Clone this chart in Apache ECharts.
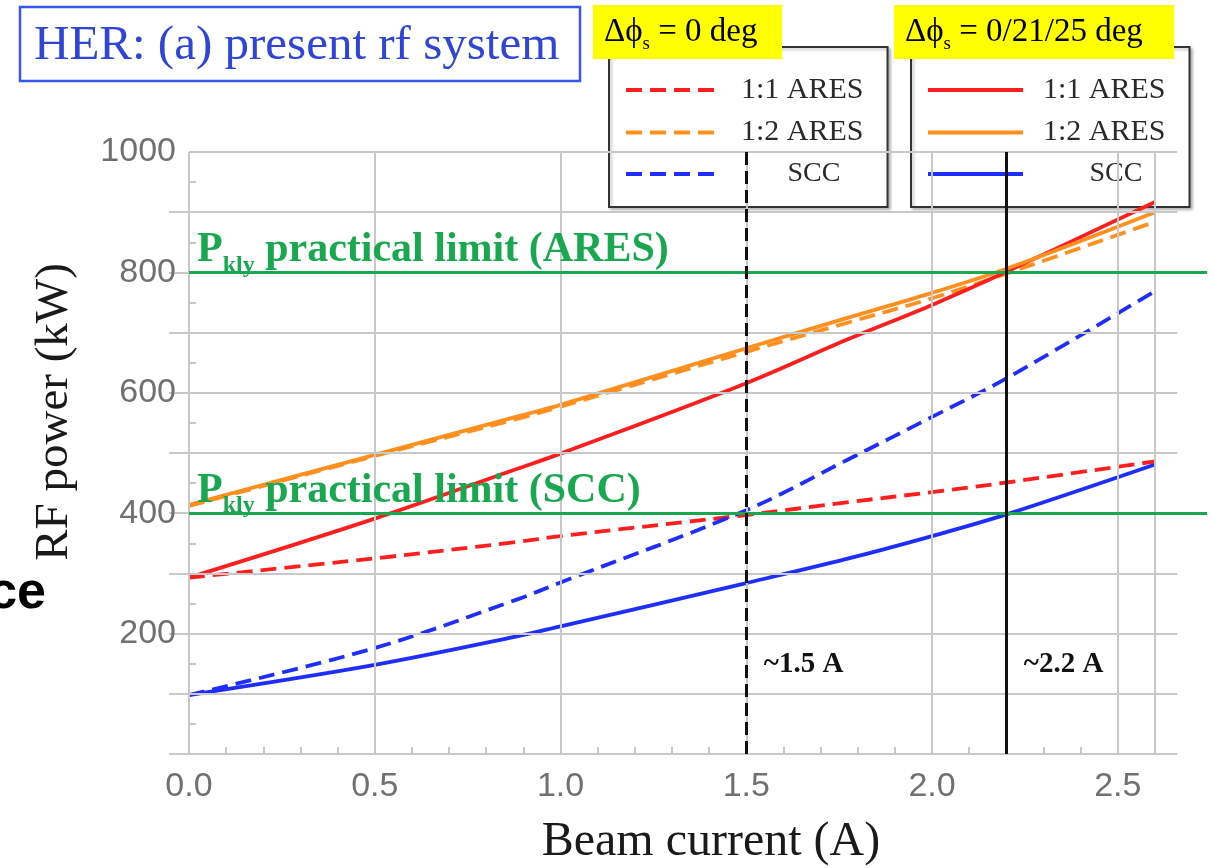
<!DOCTYPE html>
<html>
<head>
<meta charset="utf-8">
<script src="https://cdn.jsdelivr.net/npm/echarts@6/dist/echarts.min.js"></script>
<style>
html,body{margin:0;padding:0;background:#fff;}
#chart{width:1214px;height:868px;}
</style>
</head>
<body>
<div id="chart"></div>
<script>
// ---- data ----
const current = [0, 0.5, 0.88, 1.0, 1.5, 1.77, 2.0, 2.2, 2.6];
const ares11Dphi0 = [293, 325, 352, 362, 397, 418, 435, 451, 486];
const ares12Dphi0 = [412, 495, 556, 577, 668, 716, 757, 798, 884];
const sccDphi0    = [98, 176, 256, 285, 405, 488, 560, 624, 769];
const ares11      = [293, 391, 473, 499, 616, 688, 746, 801, 917];
const ares12      = [414, 497, 560, 580, 674, 724, 766, 806, 900];
const scc         = [98, 148, 195, 212, 284, 324, 362, 398, 481];

const limitValues = [800, 400];
const limitNames = ['ARES', 'SCC'];
const markerCurrents = [1.5, 2.2];
const markerLabels = ['~1.5 A', '~2.2 A'];

// ---- ticks / grid ----
const xLabelValues = [0, 0.5, 1.0, 1.5, 2.0, 2.5];
const xMinorTickValues = [0.1, 0.2, 0.3, 0.4, 0.5, 0.6, 0.7, 0.8, 0.9, 1.0, 1.1, 1.2, 1.3, 1.4, 1.5, 1.6, 1.7, 1.8, 1.9, 2.0, 2.1, 2.2, 2.3, 2.4, 2.5, 2.6];
const yLabelValues = [200, 400, 600, 800, 1000];
const yMajorTickValues = [0, 100, 200, 300, 400, 500, 600, 700, 800, 900];
const yMinorTickValues = [50, 150, 250, 350, 450, 550, 650, 750, 850, 950];
const xGridValues = [0, 0.5, 1.0, 1.5, 2.0, 2.5, 2.6];
const yGridValues = [0, 100, 200, 300, 400, 500, 600, 700, 800, 900, 1000];
const xFrameMax = 2.66;
const yFrameMax = 1000;

const RED = '#ff1e1e', ORANGE = '#ff8f1e', BLUE = '#1f2dff', GREEN = '#19a84f';
const GRIDC = '#c8c8c8';
const SERIF = '"Liberation Serif", "Times New Roman", serif';
const SANS = '"Liberation Sans", Arial, sans-serif';

function pairs(vals) { return current.map((x, i) => [x, vals[i]]); }

const curveDefs = [
  {name: '1:1 ARES|0', vals: ares11Dphi0, color: RED, dashed: true},
  {name: '1:2 ARES|0', vals: ares12Dphi0, color: ORANGE, dashed: true},
  {name: 'SCC|0', vals: sccDphi0, color: BLUE, dashed: true},
  {name: '1:1 ARES|1', vals: ares11, color: RED, dashed: false},
  {name: '1:2 ARES|1', vals: ares12, color: ORANGE, dashed: false},
  {name: 'SCC|1', vals: scc, color: BLUE, dashed: false}
];

const curveSeries = curveDefs.map(d => ({
  name: d.name,
  type: 'line',
  data: pairs(d.vals),
  smooth: 0.35,
  symbol: 'none',
  z: 4,
  lineStyle: {color: d.color, width: 3.8, type: d.dashed ? [16, 8] : 'solid'},
  itemStyle: {color: d.color}
}));

const gridLines = [];
xGridValues.forEach(x => gridLines.push([{coord: [x, 0]}, {coord: [x, yFrameMax]}]));
yGridValues.forEach(v => gridLines.push([{coord: [0, v]}, {coord: [xFrameMax, v]}]));

const greenRich = {
  p: {fontSize: 42, fontWeight: 'bold', fontFamily: SERIF, color: GREEN, lineHeight: 42},
  s: {fontSize: 24, fontWeight: 'bold', fontFamily: SERIF, color: GREEN, lineHeight: 24, padding: [30, 0, 0, 0]}
};

const legendRich = {
  a: {fontSize: 30, fontFamily: SERIF, color: '#2a2a2a', lineHeight: 30, padding: [0, 0, 0, 15]},
  c: {fontSize: 28, fontFamily: SERIF, color: '#2a2a2a', lineHeight: 30, width: 70, align: 'center', padding: [0, 0, 0, 53]}
};
function legendFmt(name) {
  const n = name.split('|')[0];
  return n === 'SCC' ? '{c|' + n + '}' : '{a|' + n + '}';
}
function legendCfg(suffix, left) {
  return {
    data: curveDefs.filter(d => d.name.endsWith(suffix)).map(d => d.name),
    left: left, top: 47, orient: 'vertical',
    padding: [28, 24, 19, 15],
    itemGap: 12.5, itemWidth: 95, itemHeight: 14,
    backgroundColor: '#fff', borderColor: '#333', borderWidth: 2,
    shadowColor: 'rgba(0,0,0,0.25)', shadowBlur: 3, shadowOffsetX: 2, shadowOffsetY: 2,
    selectedMode: false,
    itemStyle: {opacity: 0, color: 'rgba(0,0,0,0)', borderWidth: 0},
    lineStyle: {width: 4},
    formatter: legendFmt,
    textStyle: {rich: legendRich}
  };
}

const titleRich = {
  m: {fontSize: 33, fontFamily: SERIF, color: '#111', lineHeight: 33},
  s: {fontSize: 19, fontFamily: SERIF, color: '#111', lineHeight: 19, padding: [24, 0, 0, 0]}
};

const option = {
  animation: false,
  backgroundColor: '#fff',
  grid: {left: 189, top: 152, right: 7, bottom: 114, containLabel: false},
  xAxis: [{
    type: 'value', min: 0, max: 2.74,
    axisLine: {show: false},
    splitLine: {show: false},
    axisTick: {show: true, inside: true, length: 7, customValues: xMinorTickValues, lineStyle: {color: GRIDC, width: 2}},
    axisLabel: {customValues: xLabelValues, formatter: v => v.toFixed(1), fontSize: 34, fontFamily: SANS, color: '#707070', margin: 16}
  }],
  yAxis: [{
    type: 'value', min: 0, max: 1000, interval: 100, position: 'left',
    axisLine: {show: false},
    splitLine: {show: false},
    axisTick: {show: true, inside: false, length: 20, customValues: yMajorTickValues, lineStyle: {color: GRIDC, width: 2}},
    axisLabel: {customValues: yLabelValues, formatter: v => String(v), fontSize: 34, fontFamily: SANS, color: '#707070', margin: 13}
  }, {
    type: 'value', min: 0, max: 1000, interval: 50, position: 'left', offset: 0,
    axisLine: {show: false},
    splitLine: {show: false},
    axisLabel: {show: false},
    axisTick: {show: true, inside: true, length: 7, customValues: yMinorTickValues, lineStyle: {color: GRIDC, width: 2}}
  }],
  legend: [legendCfg('|0', 609), legendCfg('|1', 911)],
  series: [
    {
      name: 'grid', type: 'line', data: [], silent: true, z: 1,
      markLine: {
        silent: true, symbol: ['none', 'none'], animation: false,
        label: {show: false},
        lineStyle: {color: GRIDC, width: 2, type: 'solid'},
        data: gridLines
      }
    },
    {
      name: 'limits', type: 'line', data: [], silent: true, z: 3,
      markLine: {
        silent: true, symbol: ['none', 'none'], animation: false,
        lineStyle: {color: GREEN, width: 3, type: 'solid'},
        data: limitValues.map((v, i) => ({
          yAxis: v,
          label: {
            show: true, position: 'insideStartTop', distance: [8, 1],
            formatter: '{p|P}{s|kly}{p| practical limit (' + limitNames[i] + ')}',
            rich: greenRich
          }
        }))
      }
    },
    ...curveSeries,
    {
      name: 'markers', type: 'line', data: [], silent: true, z: 5,
      markLine: {
        silent: true, symbol: ['none', 'none'], animation: false,
        label: {show: false},
        data: markerCurrents.map((x, i) => ({
          xAxis: x,
          lineStyle: {color: '#111', width: 3, type: i === 0 ? [13, 6] : 'solid'}
        }))
      },
      markPoint: {
        silent: true, symbol: 'circle', symbolSize: 1, animation: false,
        itemStyle: {color: 'rgba(0,0,0,0)'},
        label: {show: true, position: 'right', distance: 17, formatter: '{b}',
                fontSize: 29, fontWeight: 'bold', fontFamily: SERIF, color: '#111'},
        data: markerCurrents.map((x, i) => ({name: markerLabels[i], coord: [x, 148]}))
      }
    }
  ],
  graphic: [
    {type: 'rect', z: 10, shape: {x: 20, y: 7, width: 560, height: 74},
     style: {fill: '#fff', stroke: '#3b55f0', lineWidth: 2.5}},
    {type: 'text', z: 11, x: 34, y: 46,
     style: {text: 'HER: (a) present rf system', fontSize: 49, fontFamily: SERIF, fill: '#2f45d8', verticalAlign: 'middle', align: 'left'}},
    {type: 'rect', z: 10, shape: {x: 593, y: 5, width: 189, height: 54}, style: {fill: '#ffff00'}},
    {type: 'text', z: 11, x: 604, y: 32,
     style: {text: '{m|Δϕ}{s|s}{m| = 0 deg}', rich: titleRich, verticalAlign: 'middle', align: 'left'}},
    {type: 'rect', z: 10, shape: {x: 894, y: 5, width: 280, height: 54}, style: {fill: '#ffff00'}},
    {type: 'text', z: 11, x: 905, y: 32,
     style: {text: '{m|Δϕ}{s|s}{m| = 0/21/25 deg}', rich: titleRich, verticalAlign: 'middle', align: 'left'}},
    {type: 'text', z: 11, x: 55, y: 412, rotation: Math.PI / 2,
     style: {text: 'RF power (kW)', fontSize: 47, fontFamily: SERIF, fill: '#1a1a1a', align: 'center', verticalAlign: 'middle'}},
    {type: 'text', z: 11, x: 711, y: 842,
     style: {text: 'Beam current (A)', fontSize: 48, fontFamily: SERIF, fill: '#1a1a1a', align: 'center', verticalAlign: 'middle'}},
    {type: 'text', z: 11, x: 46, y: 594,
     style: {text: 'ce', fontSize: 52, fontWeight: 'bold', fontFamily: SANS, fill: '#000', align: 'right', verticalAlign: 'middle'}}
  ]
};

const chart = echarts.init(document.getElementById('chart'), null, {renderer: 'canvas'});
chart.setOption(option);
</script>
</body>
</html>
